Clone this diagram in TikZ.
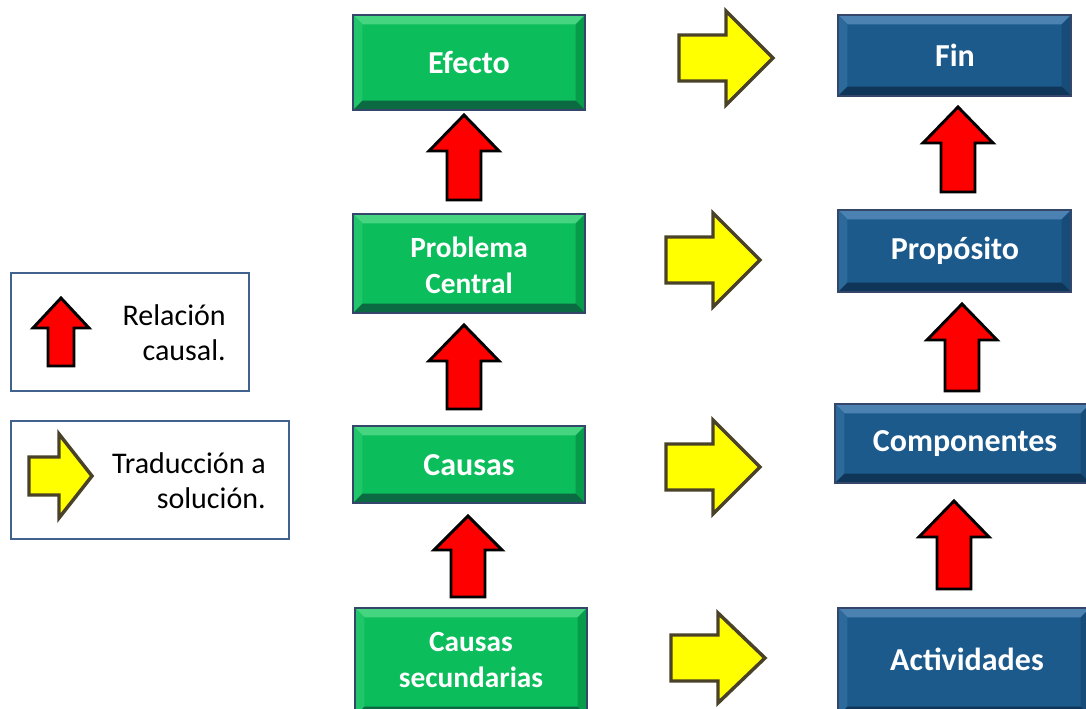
\documentclass[tikz,border=0pt]{standalone}
\usepackage{fontspec}
\setmainfont{Carlito}
\usetikzlibrary{fit,calc}
\definecolor{gface}{HTML}{0BBD5B}
\definecolor{gtop}{HTML}{45D47F}
\definecolor{gleft}{HTML}{22C66A}
\definecolor{gright}{HTML}{079C49}
\definecolor{gbot}{HTML}{0C6A42}
\definecolor{bface}{HTML}{1C5A8C}
\definecolor{btop}{HTML}{4C82B2}
\definecolor{bleft}{HTML}{2D6A9C}
\definecolor{bright}{HTML}{174C78}
\definecolor{bbot}{HTML}{0F3658}
\definecolor{rim}{HTML}{34466A}
\definecolor{legrim}{HTML}{41618F}
\definecolor{arrred}{HTML}{FF0000}
\definecolor{arryel}{HTML}{FFFF00}
\definecolor{yelrim}{HTML}{4A4228}
\newcommand{\bevel}[4]{% top left right bottom
  \path (path picture bounding box.north west) coordinate (nw)
        (path picture bounding box.south east) coordinate (se)
        (path picture bounding box.north east) coordinate (ne)
        (path picture bounding box.south west) coordinate (sw);
  \coordinate (inw) at ($(nw)+(7pt,-7pt)$);
  \coordinate (ine) at ($(ne)+(-7pt,-7pt)$);
  \coordinate (ise) at ($(se)+(-7pt,7pt)$);
  \coordinate (isw) at ($(sw)+(7pt,7pt)$);
  \fill[#1] (nw) -- (ne) -- (ine) -- (inw) -- cycle;
  \fill[#2] (nw) -- (inw) -- (isw) -- (sw) -- cycle;
  \fill[#3] (ne) -- (ine) -- (ise) -- (se) -- cycle;
  \fill[#4] (sw) -- (isw) -- (ise) -- (se) -- cycle;
}
\tikzset{
  boxtext/.style={text=white, font=\fontsize{24}{27}\selectfont\bfseries, align=center, inner sep=0pt},
  boxtexttwo/.style={boxtext, font=\fontsize{22}{27}\selectfont\bfseries},
  greenbox/.style={fill=gface, draw=rim, line width=1.5pt, inner sep=0pt,
     path picture={\bevel{gtop}{gleft}{gright}{gbot}}},
  bluebox/.style={fill=bface, draw=rim, line width=1.5pt, inner sep=0pt,
     path picture={\bevel{btop}{bleft}{bright}{bbot}}},
  legbox/.style={draw=legrim, line width=2.2pt, fill=white, inner sep=0pt},
  legtext/.style={font=\fontsize{22.5}{26}\selectfont, align=right, anchor=east, inner sep=0pt},
  redarrow/.style={fill=arrred, draw=black, line width=2.2pt, line join=miter},
  yelarrow/.style={fill=arryel, draw=yelrim, line width=2.6pt, line join=miter},
}
% up arrow: cx, top, bottom, head half width, shaft half width, head length
\newcommand{\uparr}[6]{%
  \draw[redarrow] (#1,#2) -- (#1+#4,#2+#6) -- (#1+#5,#2+#6) -- (#1+#5,#3)
     -- (#1-#5,#3) -- (#1-#5,#2+#6) -- (#1-#4,#2+#6) -- cycle;}
% right arrow: left, tip, cy, head half height, shaft half height, head length
\newcommand{\rtarr}[6]{%
  \draw[yelarrow] (#2,#3) -- (#2-#6,#3-#4) -- (#2-#6,#3-#5) -- (#1,#3-#5)
     -- (#1,#3+#5) -- (#2-#6,#3+#5) -- (#2-#6,#3+#4) -- cycle;}
\begin{document}
\begin{tikzpicture}[x=0.75pt,y=-0.75pt]
\useasboundingbox (0,0) rectangle (1086,709);
% legend
\node[legbox, fit={(11,273) (249,391)}] (leg1) {};
\uparr{61}{298}{366}{28}{13}{30}
\node[legtext] (leg1t) at (226,333) {Relación\\causal.};
\node[legbox, fit={(11,421) (289,539)}] (leg2) {};
\rtarr{29}{92}{476}{42}{19}{33}
\node[legtext] (leg2t) at (266,481) {Traducción a\\solución.};
% green column
\node[greenbox, fit={(353,15) (585,110)}] (efecto) {};
\node[boxtext] at (469,63) {Efecto};
\node[greenbox, fit={(353,214) (585,313)}] (problema) {};
\node[boxtexttwo] at (469,265) {Problema\\Central};
\node[greenbox, fit={(353,426) (585,503)}] (causas) {};
\node[boxtext] at (469,465) {Causas};
\node[greenbox, fit={(355,608) (587,716)}] (causassec) {};
\node[boxtexttwo] at (471,660) {Causas\\secundarias};
% blue column
\node[bluebox, fit={(838,15) (1071,96)}] (fin) {};
\node[boxtext] at (955,55) {Fin};
\node[bluebox, fit={(838,210) (1071,292)}] (proposito) {};
\node[boxtext] at (955,251) {Propósito};
\node[bluebox, fit={(835,404) (1090,483)}] (componentes) {};
\node[boxtext] at (965,444) {Componentes};
\node[bluebox, fit={(838,608) (1090,716)}] (actividades) {};
\node[boxtext] at (967,659) {Actividades};
% red arrows
\uparr{464}{115}{200}{35}{17}{36}
\uparr{464}{325}{409}{35}{17}{36}
\uparr{468}{516}{597}{34}{17}{34}
\uparr{958}{107}{192}{35}{17}{36}
\uparr{962}{304}{391}{35}{17}{36}
\uparr{954}{501}{589}{35}{17}{36}
% yellow arrows
\rtarr{679}{773}{58}{47}{23}{47}
\rtarr{666}{760}{260}{47}{23}{47}
\rtarr{666}{760}{467}{47}{23}{47}
\rtarr{671}{765}{658}{45}{23}{47}
\end{tikzpicture}
\end{document}
